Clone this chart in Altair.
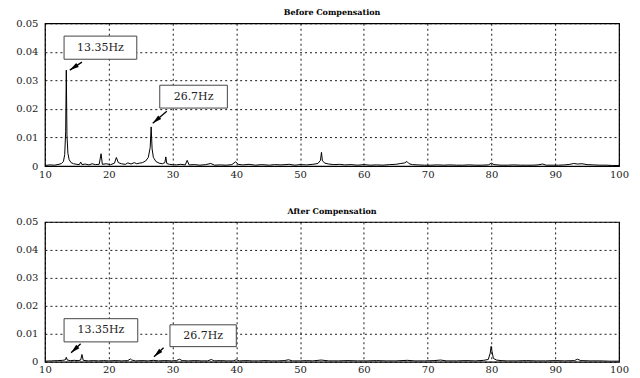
import math
import altair as alt
import pandas as pd

# ---------------- data ----------------
freq_before = [10.0, 10.8, 11.5, 12.2, 12.6, 12.9, 13.1, 13.25, 13.35, 13.45, 13.6, 13.8, 14.1, 14.5,
               15.0, 15.4, 15.6, 15.8, 16.3, 16.9, 17.4, 17.9, 18.5, 18.8, 19.0, 19.6, 20.3, 20.9,
               21.2, 21.5, 22.0, 22.6, 23.0, 23.5, 24.0, 24.4, 24.8, 25.3, 25.8, 26.2, 26.5, 26.65,
               26.8, 27.0, 27.4, 27.9, 28.4, 28.8, 28.95, 29.1, 29.5, 30.0, 30.6, 31.3, 32.0, 32.3,
               32.6, 33.4, 34.3, 35.2, 36.0, 36.6, 37.5, 38.4, 39.3, 39.9, 40.3, 41.0, 42.0, 43.0,
               44.0, 45.2, 46.0, 47.0, 48.3, 49.2, 50.0, 51.0, 52.0, 52.8, 53.2, 53.35, 53.5, 53.9,
               54.5, 55.3, 56.2, 57.0, 58.0, 59.0, 60.0, 61.0, 62.0, 63.0, 64.0, 65.0, 65.8, 66.4,
               66.75, 67.1, 67.6, 68.5, 69.5, 70.5, 71.5, 72.5, 73.5, 74.5, 75.5, 76.5, 77.5, 78.5,
               79.5, 80.0, 80.4, 81.5, 82.5, 83.5, 84.5, 85.5, 86.5, 87.3, 88.0, 88.6, 89.5, 90.5,
               91.5, 92.3, 92.9, 93.5, 94.2, 95.0, 96.0, 97.0, 98.0, 99.0, 100.0]
amp_before = [0.0002, 0.0004, 0.0003, 0.0006, 0.0009, 0.0016, 0.0040, 0.0120, 0.0336, 0.0110, 0.0045,
              0.0022, 0.0012, 0.0008, 0.0006, 0.0005, 0.0014, 0.0005, 0.0007, 0.0004, 0.0008, 0.0005,
              0.0006, 0.0043, 0.0006, 0.0008, 0.0005, 0.0010, 0.0030, 0.0012, 0.0008, 0.0006, 0.0011,
              0.0007, 0.0012, 0.0008, 0.0010, 0.0012, 0.0018, 0.0030, 0.0065, 0.0137, 0.0060, 0.0030,
              0.0016, 0.0010, 0.0008, 0.0012, 0.0032, 0.0009, 0.0006, 0.0005, 0.0004, 0.0006, 0.0004,
              0.0020, 0.0004, 0.0005, 0.0003, 0.0005, 0.0009, 0.0003, 0.0004, 0.0003, 0.0005, 0.0015,
              0.0006, 0.0004, 0.0006, 0.0003, 0.0005, 0.0003, 0.0005, 0.0004, 0.0006, 0.0003, 0.0005,
              0.0004, 0.0006, 0.0009, 0.0020, 0.0048, 0.0018, 0.0010, 0.0007, 0.0005, 0.0006, 0.0004,
              0.0005, 0.0003, 0.0005, 0.0003, 0.0004, 0.0003, 0.0005, 0.0006, 0.0009, 0.0011, 0.0016,
              0.0008, 0.0005, 0.0004, 0.0003, 0.0003, 0.0004, 0.0003, 0.0004, 0.0003, 0.0003, 0.0004,
              0.0003, 0.0003, 0.0004, 0.0010, 0.0005, 0.0003, 0.0003, 0.0004, 0.0003, 0.0003, 0.0003,
              0.0004, 0.0007, 0.0003, 0.0003, 0.0003, 0.0004, 0.0006, 0.0009, 0.0007, 0.0008, 0.0005,
              0.0004, 0.0003, 0.0003, 0.0002, 0.0002]

freq_after = [10.0, 11.0, 12.0, 12.8, 13.2, 13.35, 13.5, 14.0, 14.6, 15.2, 15.6, 15.8, 16.0, 16.8,
              17.6, 18.4, 19.2, 20.0, 21.0, 22.0, 23.0, 23.4, 23.6, 24.2, 25.2, 26.2, 27.0, 27.8,
              28.8, 29.8, 30.6, 31.1, 31.5, 32.5, 33.5, 34.5, 35.5, 36.1, 36.5, 37.5, 38.5, 39.5,
              40.0, 40.5, 41.5, 42.5, 43.5, 44.5, 45.5, 46.5, 47.5, 48.2, 48.8, 50.0, 51.0, 52.0,
              53.3, 54.5, 56.0, 57.5, 59.0, 60.5, 62.0, 63.5, 65.0, 66.8, 68.0, 69.5, 71.0, 72.0,
              73.0, 74.5, 76.0, 77.5, 78.8, 79.5, 79.8, 79.95, 80.1, 80.3, 80.8, 81.5, 82.5, 84.0,
              85.5, 87.0, 88.5, 90.0, 91.5, 93.0, 93.5, 94.0, 95.5, 97.0, 98.5, 100.0]
amp_after = [0.0002, 0.0003, 0.0004, 0.0005, 0.0007, 0.0016, 0.0006, 0.0004, 0.0005, 0.0004, 0.0006,
             0.0026, 0.0005, 0.0003, 0.0004, 0.0003, 0.0004, 0.0003, 0.0004, 0.0003, 0.0004, 0.0010,
             0.0006, 0.0003, 0.0004, 0.0003, 0.0005, 0.0003, 0.0004, 0.0003, 0.0004, 0.0009, 0.0004,
             0.0003, 0.0004, 0.0003, 0.0003, 0.0008, 0.0003, 0.0004, 0.0003, 0.0003, 0.0007, 0.0003,
             0.0004, 0.0003, 0.0003, 0.0004, 0.0003, 0.0003, 0.0004, 0.0007, 0.0003, 0.0003, 0.0004,
             0.0003, 0.0006, 0.0003, 0.0003, 0.0004, 0.0003, 0.0003, 0.0004, 0.0003, 0.0003, 0.0005,
             0.0003, 0.0003, 0.0004, 0.0006, 0.0003, 0.0003, 0.0004, 0.0003, 0.0005, 0.0008, 0.0030,
             0.0055, 0.0035, 0.0012, 0.0006, 0.0004, 0.0003, 0.0003, 0.0004, 0.0003, 0.0003, 0.0004,
             0.0003, 0.0004, 0.0009, 0.0004, 0.0003, 0.0003, 0.0002, 0.0002]

panel_titles = ["Before Compensation", "After Compensation"]
x_ticks = [10, 20, 30, 40, 50, 60, 70, 80, 90, 100]
y_ticks = [0, 0.01, 0.02, 0.03, 0.04, 0.05]

ann_labels = ["13.35Hz", "26.7Hz"]
# annotation boxes (data coordinates)
before_box_x1 = [13.0, 28.0]
before_box_x2 = [24.4, 38.6]
before_box_y1 = [0.0374, 0.0203]
before_box_y2 = [0.0455, 0.0283]
before_arrow_from_x = [15.8, 29.1]
before_arrow_from_y = [0.0364, 0.0192]
before_arrow_to_x = [13.9, 26.9]
before_arrow_to_y = [0.0336, 0.0150]

after_box_x1 = [13.0, 29.6]
after_box_x2 = [24.55, 40.0]
after_box_y1 = [0.0071, 0.0054]
after_box_y2 = [0.0154, 0.0132]
after_arrow_from_x = [15.6, 28.6]
after_arrow_from_y = [0.0064, 0.0050]
after_arrow_to_x = [14.1, 27.1]
after_arrow_to_y = [0.0032, 0.0018]

# ---------------- layout ----------------
W = 575
H_TOP = 143
H_BOTTOM = 140
X_DOM = [10, 100]
Y_DOM = [0, 0.05]
SERIF = "DejaVu Serif"
ARROW_PATH = "M0,0L0.55,2.2L-0.55,2.2Z"

X_AXIS = alt.Axis(values=x_ticks, labelFlush=False, labelPadding=3, title=None)
Y_AXIS = alt.Axis(values=y_ticks, labelFlush=False, labelPadding=7, title=None,
                  labelExpr="datum.value == 0 ? '0' : format(datum.value, '.2f')")
XS = alt.Scale(domain=X_DOM, nice=False, zero=False)
YS = alt.Scale(domain=Y_DOM, nice=False)


def ann_frame(h, x1, x2, y1, y2, fx, fy, tx, ty):
    px_x = W / (X_DOM[1] - X_DOM[0])
    px_y = h / (Y_DOM[1] - Y_DOM[0])
    angles = []
    for a, b, c, d in zip(fx, fy, tx, ty):
        dx = (c - a) * px_x
        dy = -(d - b) * px_y
        angles.append(math.degrees(math.atan2(dx, -dy)) % 360)
    return pd.DataFrame({
        "label": ann_labels,
        "x1": x1, "x2": x2, "y1": y1, "y2": y2,
        "cx": [(a + b) / 2 for a, b in zip(x1, x2)],
        "cy": [(a + b) / 2 for a, b in zip(y1, y2)],
        "fx": fx, "fy": fy, "tx": tx, "ty": ty, "ang": angles,
    })


def X(field):
    return alt.X(field, scale=XS, axis=X_AXIS, title=None)


def Y(field):
    return alt.Y(field, scale=YS, axis=Y_AXIS, title=None)


def panel(freqs, amps, ann, title, h):
    spec = pd.DataFrame({"f": freqs, "a": amps})
    line = alt.Chart(spec).mark_line(color="black", strokeWidth=1, clip=True).encode(
        x=X("f:Q"), y=Y("a:Q"))
    base = alt.Chart(ann)
    boxes = base.mark_rect(fill="white", stroke="#444", strokeWidth=1).encode(
        x=X("x1:Q"), x2="x2:Q", y=Y("y1:Q"), y2="y2:Q")
    texts = base.mark_text(font=SERIF, fontSize=11, color="#222").encode(
        x=X("cx:Q"), y=Y("cy:Q"), text="label:N")
    shafts = base.mark_rule(color="black", strokeWidth=1.3).encode(
        x=X("fx:Q"), y=Y("fy:Q"), x2="tx:Q", y2="ty:Q")
    heads = base.mark_point(shape=ARROW_PATH, filled=True, color="black", size=70, opacity=1).encode(
        x=X("tx:Q"), y=Y("ty:Q"), angle=alt.Angle("ang:Q", scale=None))
    return alt.layer(line, boxes, texts, shafts, heads).properties(
        width=W, height=h,
        title=alt.TitleParams(title, font=SERIF, fontSize=8, fontWeight="bold",
                              color="black", anchor="middle", offset=1))


top = panel(freq_before, amp_before,
            ann_frame(H_TOP, before_box_x1, before_box_x2, before_box_y1, before_box_y2,
                      before_arrow_from_x, before_arrow_from_y, before_arrow_to_x, before_arrow_to_y),
            panel_titles[0], H_TOP)
bottom = panel(freq_after, amp_after,
               ann_frame(H_BOTTOM, after_box_x1, after_box_x2, after_box_y1, after_box_y2,
                         after_arrow_from_x, after_arrow_from_y, after_arrow_to_x, after_arrow_to_y),
               panel_titles[1], H_BOTTOM)

chart = alt.vconcat(top, bottom, spacing=27).properties(
    padding={"left": 7, "top": 0, "right": 2, "bottom": 0},
    background="white",
).configure_view(
    stroke="black", strokeWidth=1.2
).configure_axis(
    grid=True, gridColor="black", gridDash=[2, 3], gridOpacity=0.9, gridWidth=1,
    domain=False, ticks=False,
    labelFont=SERIF, labelFontSize=10, labelColor="#222",
)

chart.save("out.html", embed_options={"renderer": "svg", "actions": False})
